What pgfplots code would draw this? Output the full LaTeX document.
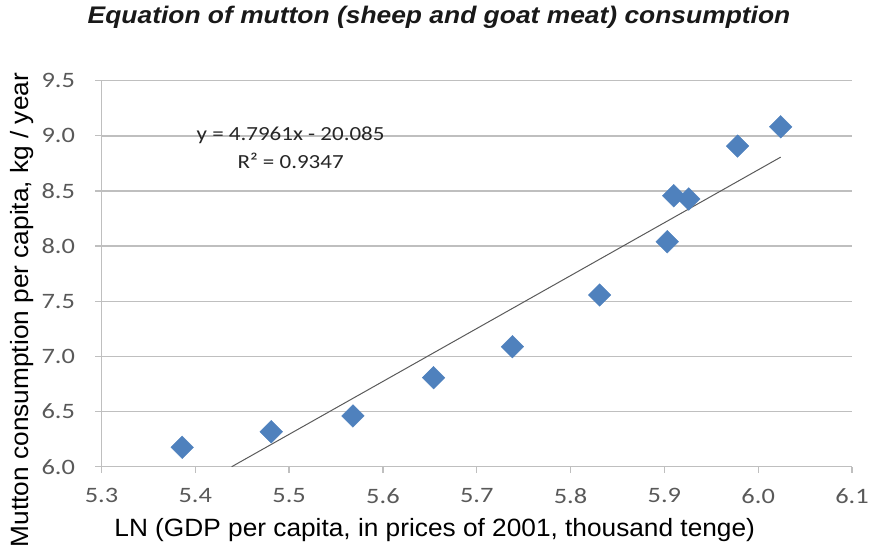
\documentclass[border=0pt]{standalone}
\usepackage{fontspec}
\setmainfont{Liberation Sans}[FakeStretch=1.05]
\newfontfamily\titlefont{Liberation Sans}[FakeStretch=1.1]
\newfontfamily\calibri{Carlito}[FakeStretch=1.15]
\newfontfamily\tickfont{Carlito}[FakeStretch=1.2]
\usepackage{pgfplots}
\pgfplotsset{compat=1.18}
\definecolor{mblue}{HTML}{4F81BD}
\definecolor{gridgray}{HTML}{BFBFBF}
\definecolor{tickgray}{HTML}{595959}
\definecolor{trendgray}{HTML}{5A5A5A}
\begin{document}
\begin{tikzpicture}
\useasboundingbox (-101.5pt,-83.3pt) rectangle (768.5pt,466.7pt);
\begin{axis}[
  at={(0,0)}, anchor=south west,
  scale only axis, width=750.5pt, height=386pt,
  xmin=5.3, xmax=6.1, ymin=6.0, ymax=9.5,
  xtick={5.3,5.4,...,6.1}, ytick={6.0,6.5,...,9.5},
  axis x line*=bottom, axis y line*=left,
  axis line style={gridgray, line width=1.3pt, -},
  tick style={gridgray, line width=1.3pt},
  tick align=outside, major tick length=6pt,
  ymajorgrids, grid style={gridgray, line width=1.5pt},
  /pgf/number format/assume math mode=true,
  /pgf/number format/.cd, fixed, fixed zerofill, precision=1, /pgfplots/.cd,
  tick label style={font=\tickfont\fontsize{22}{22}\selectfont, text=tickgray},
  xticklabel style={yshift=-12pt},
  yticklabel style={xshift=-17pt},
  xlabel={LN (GDP per capita, in prices of 2001, thousand tenge)},
  xlabel style={font=\fontsize{25}{25}\selectfont, at={(axis description cs:0.444,-0.1813)}, anchor=base},
  ylabel={Mutton consumption per capita, kg / year},
  ylabel style={font=\fontsize{25}{25}\selectfont, at={(axis description cs:-0.097,0.406)}, anchor=base},
  title={\titlefont\bfseries\itshape Equation of mutton (sheep and goat meat) consumption},
  title style={font=\fontsize{24}{24}\selectfont, at={(axis description cs:0.4497,1.1332)}, anchor=base, text=black!90},
  clip=false,
]
\addplot[trendgray, line width=1pt] coordinates {(5.4388,6.0) (6.024,8.807)};
\addplot[only marks, mark=square*, mark size=8pt, mark options={rotate=45, fill=mblue, draw=mblue}]
  coordinates {
  (5.386,6.176) (5.481,6.317) (5.568,6.460) (5.654,6.807) (5.738,7.088)
  (5.831,7.557) (5.903,8.040) (5.910,8.457) (5.926,8.427) (5.978,8.907) (6.024,9.082)
  };
\node[font=\calibri\fontsize{20}{20}\selectfont, text=black!85, anchor=base] at (axis description cs:0.252,0.846) {y = 4.7961x - 20.085};
\node[font=\calibri\fontsize{20}{20}\selectfont, text=black!85, anchor=base] at (axis description cs:0.252,0.773) {R² = 0.9347};
\end{axis}
\end{tikzpicture}
\end{document}
